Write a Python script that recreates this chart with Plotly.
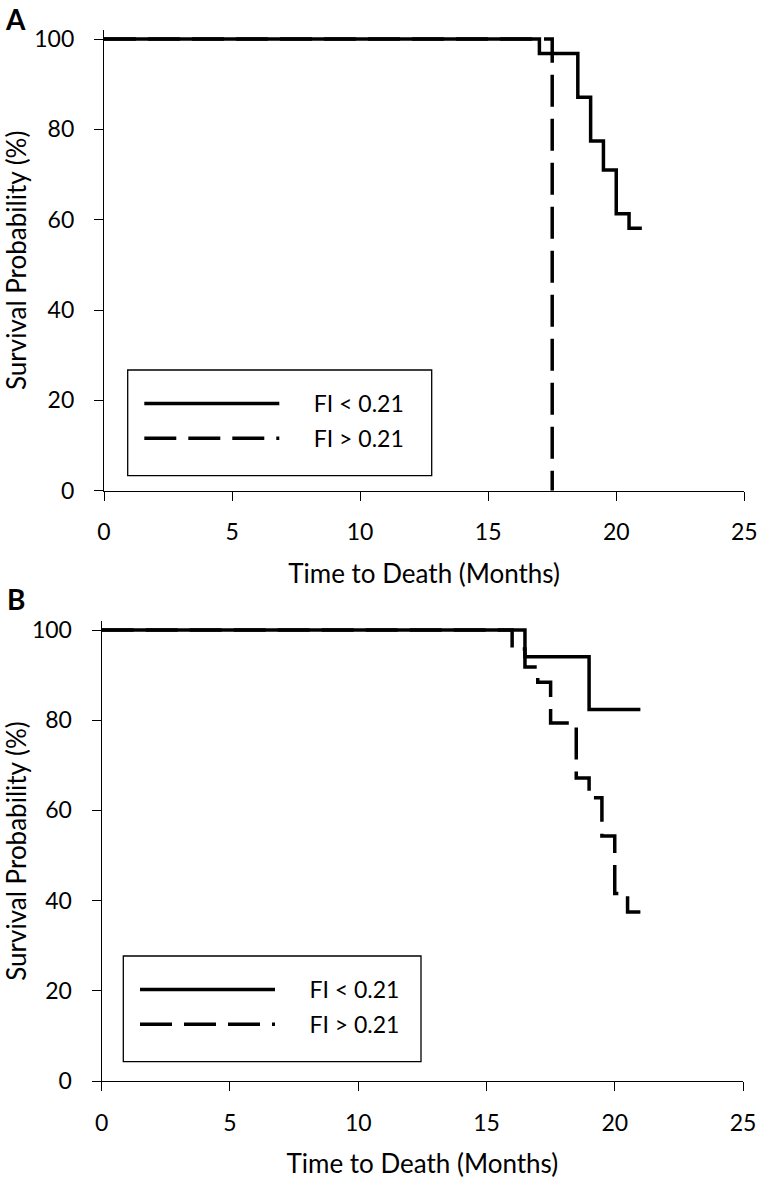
import plotly.graph_objects as go

# ---- data ----
months_a_low = [0, 17, 18.5, 19, 19.5, 20, 20.5, 21]
surv_a_low = [100, 96.8, 87.1, 77.4, 71.0, 61.3, 58.1, 58.1]
months_a_high = [0, 17.5]
surv_a_high = [100, 0]

months_b_low = [0, 16.5, 19, 21]
surv_b_low = [100, 94.1, 82.4, 82.4]
months_b_high = [0, 16, 16.5, 17, 17.5, 18.5, 19, 19.5, 20, 20.5, 21]
surv_b_high = [100, 95.8, 91.8, 88.4, 79.4, 67.2, 62.8, 54.3, 41.6, 37.5, 37.5]

series_names = ["FI < 0.21", "FI > 0.21"]
panel_labels = ["A", "B"]
x_ticks = [0, 5, 10, 15, 20, 25]
y_ticks = [0, 20, 40, 60, 80, 100]
x_title = "Time to Death (Months)"
y_title = "Survival Probability (%)"

FONT = "Lato"
FS = 23
TFS = 26
OFF = 0  # body margin removed by post_script
W, H = 760, 1179
ML, MR, MT, MB = 101, 15, 30, 98
PW = W - ML - MR
PH = H - MT - MB

def clamp(v):
    return max(0.0, min(1.0, v))

def px_x(s):
    return (s - OFF - ML) / PW

def px_y(s):
    return (H - MB - (s - OFF)) / PH

solid = dict(color="black", width=3.5)
dashed = dict(color="black", width=3.5, dash="32px,12px")
GAP = "\u00a0" * 5

fig = go.Figure()
fig.add_trace(go.Scatter(x=months_a_low, y=surv_a_low, mode="lines", line=solid, line_shape="hv",
                         name=GAP + series_names[0], xaxis="x", yaxis="y", legend="legend", legendgroup="a1"))
fig.add_trace(go.Scatter(x=months_a_high, y=surv_a_high, mode="lines", line=dashed, line_shape="hv",
                         name=GAP + series_names[1], xaxis="x", yaxis="y", legend="legend", legendgroup="a2"))
fig.add_trace(go.Scatter(x=months_b_low, y=surv_b_low, mode="lines", line=solid, line_shape="hv",
                         name=GAP + series_names[0], xaxis="x2", yaxis="y2", legend="legend2", legendgroup="b1"))
fig.add_trace(go.Scatter(x=months_b_high, y=surv_b_high, mode="lines", line=dashed, line_shape="hv",
                         name=GAP + series_names[1], xaxis="x2", yaxis="y2", legend="legend2", legendgroup="b2"))

axis_common = dict(showgrid=False, zeroline=False, showline=True, linecolor="black", linewidth=1.3,
                   ticks="outside", ticklen=9, tickwidth=1.3, tickcolor="black", automargin=False,
                   tickfont=dict(family=FONT, size=FS, color="black"))

xdomA = [clamp(px_x(104)), clamp(px_x(744.3))]
xdomB = [clamp(px_x(101.7)), clamp(px_x(743))]
ydomA = [clamp(px_y(490.7)), clamp(px_y(30))]
ydomB = [clamp(px_y(1081)), clamp(px_y(621))]

leg_common = dict(xanchor="left", yanchor="top", borderwidth=0, bgcolor="rgba(0,0,0,0)",
                  font=dict(family=FONT, size=FS, color="black"), itemwidth=135,
                  traceorder="grouped", tracegroupgap=2)

fig.update_layout(
    width=W, height=H,
    margin=dict(l=ML, r=MR, t=MT, b=MB),
    paper_bgcolor="white", plot_bgcolor="white",
    font=dict(family=FONT, size=FS, color="black"),
    xaxis=dict(axis_common, domain=xdomA, range=[0, 25], tickvals=x_ticks, anchor="y",
               ticklabelstandoff=12,
               title=dict(text=x_title, font=dict(family=FONT, size=TFS), standoff=20)),
    yaxis=dict(axis_common, domain=ydomA, range=[0, 102], tickvals=y_ticks, anchor="x",
               ticklabelstandoff=15,
               title=dict(text=y_title, font=dict(family=FONT, size=TFS), standoff=0)),
    xaxis2=dict(axis_common, domain=xdomB, range=[0, 25], tickvals=x_ticks, anchor="y2",
                ticklabelstandoff=12,
                title=dict(text=x_title, font=dict(family=FONT, size=TFS), standoff=20)),
    yaxis2=dict(axis_common, domain=ydomB, range=[0, 102], tickvals=y_ticks, anchor="x2",
                ticklabelstandoff=15,
                title=dict(text=y_title, font=dict(family=FONT, size=TFS), standoff=0)),
    legend=dict(leg_common, x=px_x(139.3), y=px_y(382)),
    legend2=dict(leg_common, x=px_x(135), y=px_y(968)),
    showlegend=True,
)

# legend frames
for (x0, y0, x1, y1) in [(127.7, 370, 431.7, 475.7), (123.3, 956, 421, 1061.7)]:
    fig.add_shape(type="rect", xref="paper", yref="paper",
                  x0=px_x(x0), x1=px_x(x1), y0=px_y(y1), y1=px_y(y0),
                  line=dict(color="black", width=1.3), fillcolor="rgba(0,0,0,0)", layer="above")

for lab, xp, yp in [(panel_labels[0], 3, 19), (panel_labels[1], 5, 599)]:
    fig.add_annotation(text=f"<b>{lab}</b>", x=px_x(xp), y=px_y(yp), xref="paper", yref="paper",
                       xanchor="left", yanchor="middle", showarrow=False,
                       font=dict(family=FONT, size=28, color="black"))

fig.write_html("out.html", config={"displayModeBar": False},
               post_script="document.body.style.margin='0';")
